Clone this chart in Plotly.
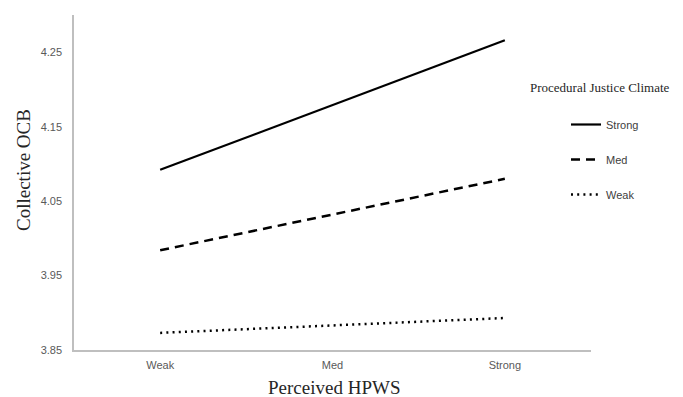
import plotly.graph_objects as go

categories = ["Weak", "Med", "Strong"]
series_names = ["Strong", "Med", "Weak"]
strong_vals = [4.092, 4.179, 4.266]
med_vals = [3.984, 4.032, 4.080]
weak_vals = [3.873, 3.883, 3.893]
y_ticks = [3.85, 3.95, 4.05, 4.15, 4.25]
y_tick_labels = ["3.85", "3.95", "4.05", "4.15", "4.25"]

styles = [
    dict(width=2.2, dash="solid"),
    dict(width=2.5, dash="9px,6px"),
    dict(width=2.5, dash="2px,4.2px"),
]

fig = go.Figure()
for i, (name, vals) in enumerate(zip(series_names, [strong_vals, med_vals, weak_vals])):
    fig.add_trace(go.Scatter(
        x=categories, y=vals, mode="lines", name=name,
        legendgroup=name,
        line=dict(color="black", **styles[i]),
    ))

# page body has an 8px default margin; compensate so marks land where the reference has them
OFF = 8
W, H = 683 - OFF, 397 - OFF
L, T = 74 - OFF, 15 - OFF
R = 683 - 591
B = 397 - 350
pw, ph = W - L - R, H - T - B

def px_x(px):
    return (px - OFF - L) / pw

def px_y(py):
    return (H - B - (py - OFF)) / ph

fig.update_layout(
    width=W, height=H,
    margin=dict(l=L, r=R, t=T, b=B),
    paper_bgcolor="white", plot_bgcolor="white",
    showlegend=True,
    legend=dict(
        x=px_x(566), y=px_y(110), xanchor="left", yanchor="top",
        font=dict(family="Liberation Sans, Arial", size=11, color="#404040"),
        tracegroupgap=16, bgcolor="rgba(0,0,0,0)",
    ),
    xaxis=dict(
        type="category", range=[-0.5, 2.5],
        showline=True, linecolor="#bfbfbf", linewidth=1.5,
        showgrid=False, zeroline=False, ticks="",
        tickfont=dict(family="Liberation Sans, Arial", size=11, color="#595959"),
        ticklabelstandoff=4,
    ),
    yaxis=dict(
        range=[3.85, 4.30],
        tickvals=y_ticks, ticktext=y_tick_labels,
        showline=True, linecolor="#bfbfbf", linewidth=1.5,
        showgrid=False, zeroline=False, ticks="",
        tickfont=dict(family="Liberation Sans, Arial", size=11, color="#595959"),
        ticklabelstandoff=8,
    ),
    annotations=[
        dict(text="Collective OCB", xref="paper", yref="paper",
             x=px_x(23), y=px_y(170), textangle=-90, showarrow=False,
             xanchor="center", yanchor="middle",
             font=dict(family="Liberation Serif, Times New Roman", size=19, color="#262626")),
        dict(text="Perceived HPWS", xref="paper", yref="paper",
             x=px_x(334), y=px_y(387), showarrow=False,
             xanchor="center", yanchor="middle",
             font=dict(family="Liberation Serif, Times New Roman", size=19, color="#262626")),
        dict(text="Procedural Justice Climate", xref="paper", yref="paper",
             x=px_x(600), y=px_y(87), showarrow=False,
             xanchor="center", yanchor="middle",
             font=dict(family="Liberation Serif, Times New Roman", size=13, color="#262626")),
    ],
)

fig.write_html("out.html")
